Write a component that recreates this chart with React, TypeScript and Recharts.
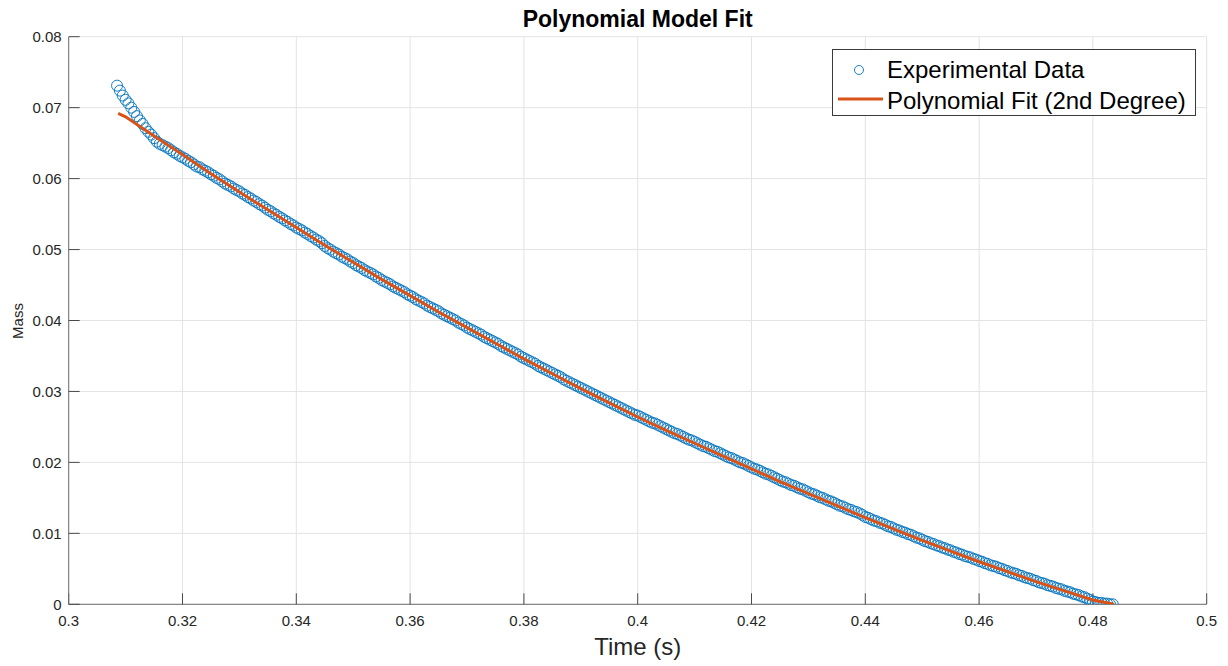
import { ComposedChart, Scatter, XAxis, YAxis, CartesianGrid, Legend } from "recharts"

const FONT = '"Liberation Sans", Arial, Helvetica, sans-serif'
const AXIS = "#6e6e6e"
const TICK = "#4a4a4a"
const TEXT = "#262626"
const BLUE = "#0072BD"
const ORANGE = "#D95319"

const xTicks = [0.3, 0.32, 0.34, 0.36, 0.38, 0.4, 0.42, 0.44, 0.46, 0.48, 0.5]
const yTicks = [0, 0.01, 0.02, 0.03, 0.04, 0.05, 0.06, 0.07, 0.08]

// sample times (s)
const time = [
  0.3085, 0.309, 0.3095, 0.31, 0.3105, 0.311, 0.3115, 0.312, 0.3125, 0.313, 0.3135, 0.314,
  0.3145, 0.315, 0.3155, 0.316, 0.3165, 0.317, 0.3175, 0.318, 0.3185, 0.319, 0.3195,
  0.32, 0.3205, 0.321, 0.3215, 0.322, 0.3225, 0.323, 0.3235, 0.324, 0.3245,
  0.325, 0.3255, 0.326, 0.3265, 0.327, 0.3275, 0.328, 0.3285, 0.329, 0.3295,
  0.33, 0.3305, 0.331, 0.3315, 0.332, 0.3325, 0.333, 0.3335, 0.334, 0.3345,
  0.335, 0.3355, 0.336, 0.3365, 0.337, 0.3375, 0.338, 0.3385, 0.339, 0.3395,
  0.34, 0.3405, 0.341, 0.3415, 0.342, 0.3425, 0.343, 0.3435, 0.344, 0.3445,
  0.345, 0.3455, 0.346, 0.3465, 0.347, 0.3475, 0.348, 0.3485, 0.349, 0.3495,
  0.35, 0.3505, 0.351, 0.3515, 0.352, 0.3525, 0.353, 0.3535, 0.354, 0.3545,
  0.355, 0.3555, 0.356, 0.3565, 0.357, 0.3575, 0.358, 0.3585, 0.359, 0.3595,
  0.36, 0.3605, 0.361, 0.3615, 0.362, 0.3625, 0.363, 0.3635, 0.364, 0.3645,
  0.365, 0.3655, 0.366, 0.3665, 0.367, 0.3675, 0.368, 0.3685, 0.369, 0.3695,
  0.37, 0.3705, 0.371, 0.3715, 0.372, 0.3725, 0.373, 0.3735, 0.374, 0.3745,
  0.375, 0.3755, 0.376, 0.3765, 0.377, 0.3775, 0.378, 0.3785, 0.379, 0.3795,
  0.38, 0.3805, 0.381, 0.3815, 0.382, 0.3825, 0.383, 0.3835, 0.384, 0.3845,
  0.385, 0.3855, 0.386, 0.3865, 0.387, 0.3875, 0.388, 0.3885, 0.389, 0.3895,
  0.39, 0.3905, 0.391, 0.3915, 0.392, 0.3925, 0.393, 0.3935, 0.394, 0.3945,
  0.395, 0.3955, 0.396, 0.3965, 0.397, 0.3975, 0.398, 0.3985, 0.399, 0.3995,
  0.4, 0.4005, 0.401, 0.4015, 0.402, 0.4025, 0.403, 0.4035, 0.404, 0.4045,
  0.405, 0.4055, 0.406, 0.4065, 0.407, 0.4075, 0.408, 0.4085, 0.409, 0.4095,
  0.41, 0.4105, 0.411, 0.4115, 0.412, 0.4125, 0.413, 0.4135, 0.414, 0.4145,
  0.415, 0.4155, 0.416, 0.4165, 0.417, 0.4175, 0.418, 0.4185, 0.419, 0.4195,
  0.42, 0.4205, 0.421, 0.4215, 0.422, 0.4225, 0.423, 0.4235, 0.424, 0.4245,
  0.425, 0.4255, 0.426, 0.4265, 0.427, 0.4275, 0.428, 0.4285, 0.429, 0.4295,
  0.43, 0.4305, 0.431, 0.4315, 0.432, 0.4325, 0.433, 0.4335, 0.434, 0.4345,
  0.435, 0.4355, 0.436, 0.4365, 0.437, 0.4375, 0.438, 0.4385, 0.439, 0.4395,
  0.44, 0.4405, 0.441, 0.4415, 0.442, 0.4425, 0.443, 0.4435, 0.444, 0.4445,
  0.445, 0.4455, 0.446, 0.4465, 0.447, 0.4475, 0.448, 0.4485, 0.449, 0.4495,
  0.45, 0.4505, 0.451, 0.4515, 0.452, 0.4525, 0.453, 0.4535, 0.454, 0.4545,
  0.455, 0.4555, 0.456, 0.4565, 0.457, 0.4575, 0.458, 0.4585, 0.459, 0.4595,
  0.46, 0.4605, 0.461, 0.4615, 0.462, 0.4625, 0.463, 0.4635, 0.464, 0.4645,
  0.465, 0.4655, 0.466, 0.4665, 0.467, 0.4675, 0.468, 0.4685, 0.469, 0.4695,
  0.47, 0.4705, 0.471, 0.4715, 0.472, 0.4725, 0.473, 0.4735, 0.474, 0.4745,
  0.475, 0.4755, 0.476, 0.4765, 0.477, 0.4775, 0.478, 0.4785, 0.479, 0.4795,
  0.48, 0.4805, 0.481, 0.4815, 0.482, 0.4825, 0.483, 0.4835,
]

// measured mass
const mass = [
  0.0731, 0.0724, 0.0717, 0.0711, 0.0706, 0.07, 0.0694, 0.0688, 0.0682, 0.0677, 0.0671, 0.0666,
  0.0662, 0.0657, 0.0652, 0.0649, 0.0647, 0.0645, 0.0643, 0.064, 0.0637, 0.0635, 0.0632,
  0.063, 0.0628, 0.0625, 0.0623, 0.062, 0.0617, 0.0616, 0.0613, 0.0611, 0.0609,
  0.0606, 0.0604, 0.0601, 0.0599, 0.0596, 0.0593, 0.0591, 0.0589, 0.0586, 0.0584,
  0.0582, 0.0579, 0.0577, 0.0574, 0.0572, 0.0569, 0.0567, 0.0564, 0.0562, 0.0559,
  0.0556, 0.0554, 0.0551, 0.0549, 0.0546, 0.0544, 0.0541, 0.0539, 0.0536, 0.0534,
  0.0531, 0.0529, 0.0527, 0.0524, 0.0522, 0.0519, 0.0517, 0.0514, 0.0512, 0.0509,
  0.0505, 0.0502, 0.05, 0.0497, 0.0495, 0.0493, 0.049, 0.0488, 0.0486, 0.0483,
  0.0481, 0.0478, 0.0476, 0.0474, 0.0471, 0.0469, 0.0467, 0.0465, 0.0462, 0.046,
  0.0457, 0.0455, 0.0453, 0.0451, 0.0448, 0.0446, 0.0444, 0.0442, 0.044, 0.0437,
  0.0435, 0.0433, 0.043, 0.0428, 0.0426, 0.0424, 0.0421, 0.0419, 0.0417, 0.0415,
  0.0413, 0.041, 0.0408, 0.0406, 0.0404, 0.0402, 0.04, 0.0397, 0.0395, 0.0393,
  0.039, 0.0388, 0.0386, 0.0384, 0.0382, 0.038, 0.0377, 0.0375, 0.0373, 0.0371,
  0.0369, 0.0367, 0.0364, 0.0362, 0.036, 0.0358, 0.0356, 0.0354, 0.0352, 0.0349,
  0.0347, 0.0345, 0.0343, 0.0341, 0.0339, 0.0336, 0.0334, 0.0332, 0.033, 0.0328,
  0.0326, 0.0324, 0.0322, 0.032, 0.0317, 0.0315, 0.0313, 0.0311, 0.0309, 0.0307,
  0.0305, 0.0303, 0.0301, 0.0299, 0.0297, 0.0295, 0.0293, 0.0291, 0.0289, 0.0287,
  0.0285, 0.0283, 0.0281, 0.0279, 0.0277, 0.0275, 0.0273, 0.0271, 0.0269, 0.0267,
  0.0266, 0.0264, 0.0262, 0.026, 0.0258, 0.0256, 0.0255, 0.0253, 0.0251, 0.0249,
  0.0247, 0.0245, 0.0243, 0.0241, 0.024, 0.0238, 0.0236, 0.0234, 0.0232, 0.0231,
  0.0229, 0.0227, 0.0225, 0.0223, 0.0222, 0.022, 0.0218, 0.0216, 0.0215, 0.0213,
  0.0211, 0.0209, 0.0207, 0.0206, 0.0204, 0.0202, 0.02, 0.0199, 0.0197, 0.0195,
  0.0193, 0.0191, 0.019, 0.0188, 0.0186, 0.0184, 0.0183, 0.0181, 0.0179, 0.0177,
  0.0175, 0.0173, 0.0172, 0.017, 0.0168, 0.0167, 0.0165, 0.0163, 0.0162, 0.016,
  0.0158, 0.0156, 0.0155, 0.0153, 0.0151, 0.015, 0.0148, 0.0146, 0.0145, 0.0143,
  0.0141, 0.0139, 0.0138, 0.0136, 0.0134, 0.0133, 0.0131, 0.013, 0.0128, 0.0126,
  0.0123, 0.0122, 0.012, 0.0118, 0.0117, 0.0115, 0.0114, 0.0112, 0.011, 0.0109,
  0.0107, 0.0105, 0.0104, 0.0102, 0.0101, 0.0099, 0.0098, 0.0096, 0.0094, 0.0093,
  0.0091, 0.0089, 0.0088, 0.0086, 0.0085, 0.0083, 0.0082, 0.008, 0.0079, 0.0077,
  0.0076, 0.0074, 0.0073, 0.0071, 0.007, 0.0068, 0.0067, 0.0066, 0.0064, 0.0063,
  0.0061, 0.006, 0.0058, 0.0057, 0.0055, 0.0054, 0.0053, 0.0051, 0.005, 0.0048,
  0.0047, 0.0045, 0.0044, 0.0043, 0.0041, 0.004, 0.0038, 0.0037, 0.0036, 0.0034,
  0.0033, 0.0031, 0.003, 0.0029, 0.0027, 0.0026, 0.0025, 0.0023, 0.0022, 0.0021,
  0.0019, 0.0018, 0.0017, 0.0015, 0.0014, 0.0013, 0.0011, 0.001, 0.0008, 0.0006,
  0.0004, 0.0003, 0.0002, 0.0002, 0.0001, 0.0001, 0, 0,
]

// 2nd degree fit
const fitTime = [
  0.3087, 0.31, 0.315, 0.32, 0.325, 0.33, 0.335, 0.34, 0.345, 0.35, 0.355, 0.36, 0.365,
  0.37, 0.375, 0.38, 0.385, 0.39, 0.395, 0.4, 0.405, 0.41, 0.415, 0.42, 0.425, 0.43,
  0.435, 0.44, 0.445, 0.45, 0.455, 0.46, 0.465, 0.47, 0.475, 0.48, 0.4837,
]
const fitMass = [
  0.0692, 0.0687, 0.066, 0.0634, 0.0607, 0.0581, 0.0556, 0.0531, 0.0506, 0.0482, 0.0458,
  0.0435, 0.0412, 0.039, 0.0368, 0.0346, 0.0325, 0.0304, 0.0284, 0.0264, 0.0245, 0.0227,
  0.0209, 0.0191, 0.0173, 0.0156, 0.0139, 0.0122, 0.0106, 0.009, 0.0075, 0.006, 0.0046,
  0.0032, 0.0019, 0.0006, 0,
]

const points = time.map((t, i) => ({ t, m: mass[i] }))
const fit = fitTime.map((t, i) => ({ t, m: fitMass[i] }))

const tickStyle = { fill: TEXT, fontSize: 15, fontFamily: FONT }
const tickLineStyle = { stroke: TICK, strokeWidth: 1 }

const OpenCircle = (props: any) => {
  const { cx, cy } = props
  if (cx == null || cy == null) return <g />
  return <circle cx={cx} cy={cy} r={5.5} fill="none" stroke={BLUE} strokeWidth={0.9} />
}

// the fit is drawn only as a connecting line, no markers
const NoMarker = () => <g />

const renderLegend = () => (
  <div
    style={{
      position: "relative",
      width: 364,
      height: 67,
      boxSizing: "border-box",
      border: "1px solid #3a3a3a",
      background: "#fff",
      fontFamily: FONT,
      fontSize: 24,
      lineHeight: "30px",
      color: "#000",
    }}
  >
    <svg width={60} height={67} style={{ position: "absolute", left: 0, top: 0 }}>
      <circle cx={26} cy={20} r={4.5} fill="none" stroke={BLUE} strokeWidth={0.9} />
      <line x1={5} x2={50} y1={49} y2={49} stroke={ORANGE} strokeWidth={3} />
    </svg>
    <span style={{ position: "absolute", left: 54, top: 5, whiteSpace: "nowrap" }}>Experimental Data</span>
    <span style={{ position: "absolute", left: 54, top: 36, whiteSpace: "nowrap" }}>Polynomial Fit (2nd Degree)</span>
  </div>
)

export default function App() {
  return (
    <div style={{ position: "absolute", left: 0, top: 0, width: 1228, height: 666, background: "#fff" }}>
      <ComposedChart
        width={1228}
        height={666}
        margin={{ top: 36.7, right: 21.3, bottom: 31.7, left: 8.7 }}
      >
        <CartesianGrid stroke="#e3e3e3" />
        <XAxis
          dataKey="t"
          type="number"
          domain={[0.3, 0.5]}
          ticks={xTicks}
          allowDataOverflow
          height={30}
          stroke={AXIS}
          tickSize={-11}
          tickMargin={22}
          tickLine={tickLineStyle}
          tick={tickStyle}
        />
        <XAxis
          xAxisId="top"
          orientation="top"
          type="number"
          domain={[0.3, 0.5]}
          ticks={xTicks}
          allowDataOverflow
          height={0}
          stroke={AXIS}
          tickSize={-11}
          tickLine={tickLineStyle}
          tickFormatter={() => ""}
        />
        <YAxis
          type="number"
          domain={[0, 0.08]}
          ticks={yTicks}
          allowDataOverflow
          width={60}
          stroke={AXIS}
          tickSize={-11}
          tickMargin={18}
          tickLine={tickLineStyle}
          tick={tickStyle}
        />
        <YAxis
          yAxisId="right"
          orientation="right"
          type="number"
          domain={[0, 0.08]}
          ticks={yTicks}
          allowDataOverflow
          width={0}
          stroke={AXIS}
          tickSize={-11}
          tickLine={tickLineStyle}
          tickFormatter={() => ""}
        />
        <Legend
          layout="vertical"
          align="center"
          verticalAlign="middle"
          content={renderLegend}
          wrapperStyle={{ position: "absolute", left: 832, top: 49, width: 364, height: 67 }}
        />
        <Scatter
          name="Experimental Data"
          data={points}
          dataKey="m"
          shape={OpenCircle}
          isAnimationActive={false}
        />
        <Scatter
          name="Polynomial Fit (2nd Degree)"
          data={fit}
          dataKey="m"
          fill={ORANGE}
          line={{ stroke: ORANGE, strokeWidth: 3, fill: "none" }}
          lineType="joint"
          shape={NoMarker}
          isAnimationActive={false}
        />
      </ComposedChart>
      <div
        style={{
          position: "absolute",
          left: 0,
          width: 1275.4,
          top: 6,
          textAlign: "center",
          fontFamily: FONT,
          fontWeight: "bold",
          fontSize: 23,
          lineHeight: "27px",
          color: "#000",
        }}
      >
        Polynomial Model Fit
      </div>
      <div
        style={{
          position: "absolute",
          left: 0,
          width: 1275.4,
          top: 633,
          textAlign: "center",
          fontFamily: FONT,
          fontSize: 24,
          lineHeight: "28px",
          color: TEXT,
        }}
      >
        Time (s)
      </div>
      <div
        style={{
          position: "absolute",
          left: 18,
          top: 320.5,
          transform: "translate(-50%, -50%) rotate(-90deg)",
          fontFamily: FONT,
          fontSize: 15,
          lineHeight: "18px",
          color: TEXT,
          whiteSpace: "nowrap",
        }}
      >
        Mass
      </div>
    </div>
  )
}
